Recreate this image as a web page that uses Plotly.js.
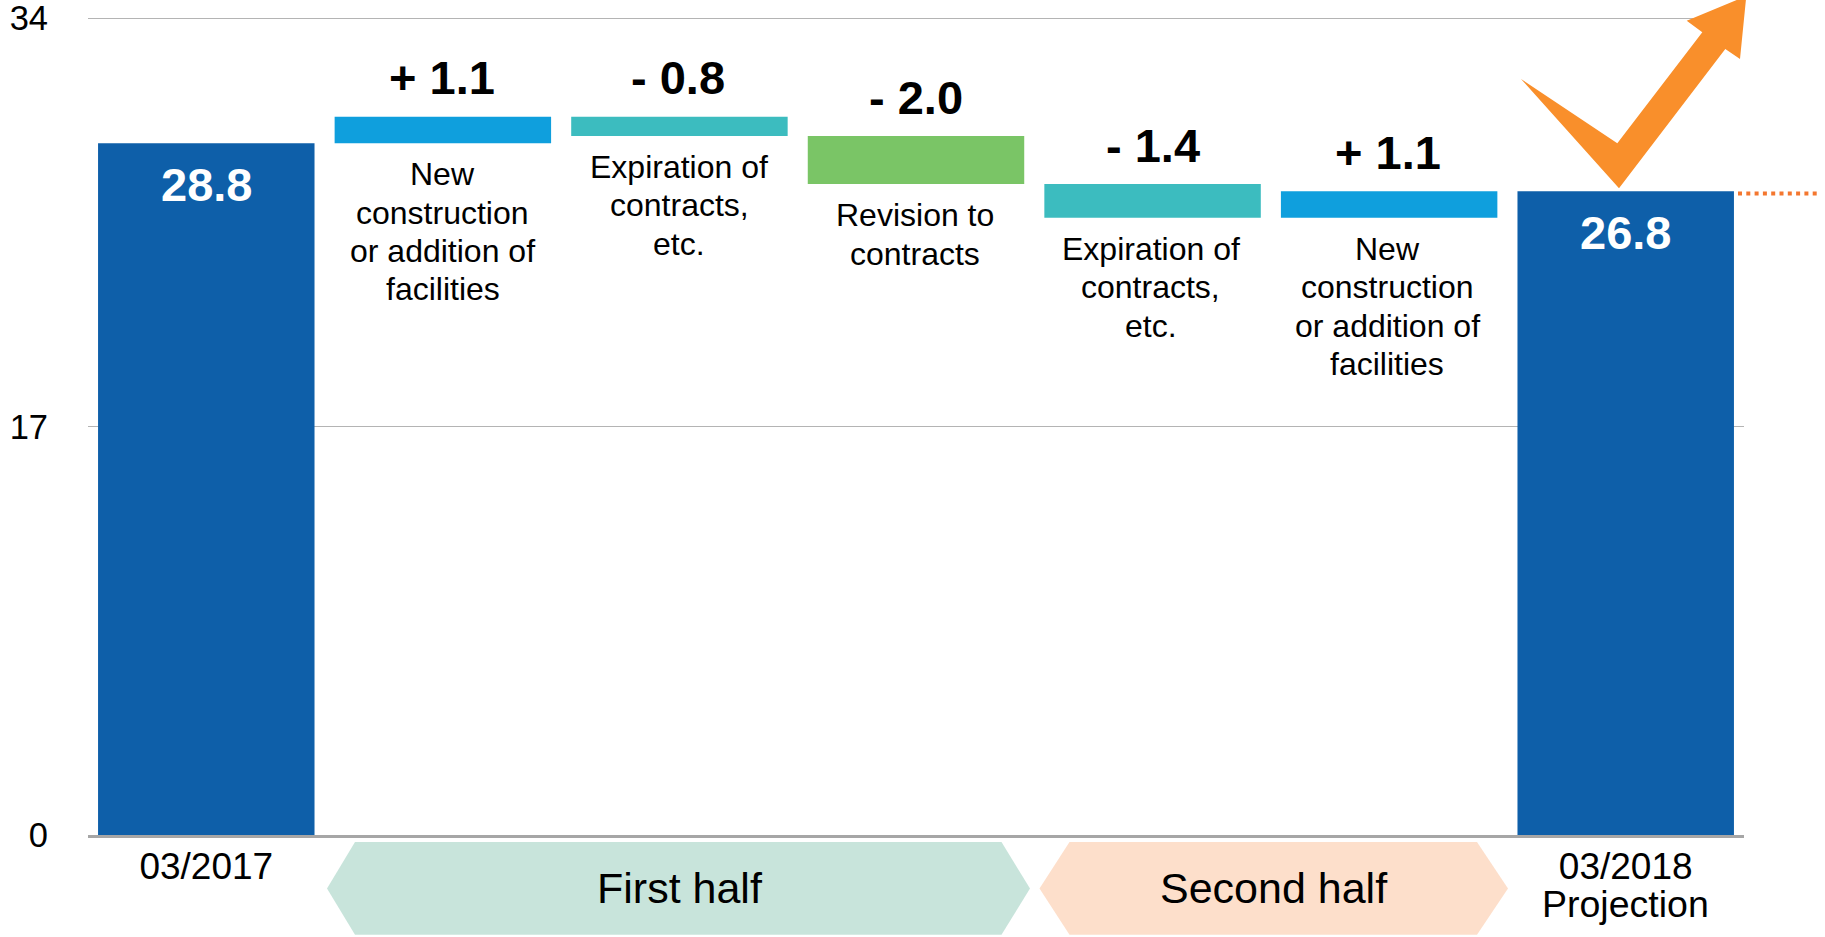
<!DOCTYPE html>
<html>
<head>
<meta charset="utf-8">
<script src="https://cdn.plot.ly/plotly-3.0.1.min.js"></script>
<style>html,body{margin:0;padding:0;background:#fff;overflow:hidden}</style>
</head>
<body>
<div id="chart" style="width:1825px;height:937px"></div>
<script>
const categories = ['03/2017','New facilities H1','Expiration H1','Revision','Expiration H2','New facilities H2','03/2018'];
const barBottoms = [0, 28.8, 29.1, 27.1, 25.7, 25.7, 0];
const barHeights = [28.8, 1.1, 0.8, 2.0, 1.4, 1.1, 26.8];
const barColors = ['#0e5fa9','#0f9fdd','#3cbcbf','#7ac566','#3cbcbf','#0f9fdd','#0e5fa9'];
const deltaLabels = ['', '+ 1.1', '- 0.8', '- 2.0', '- 1.4', '+ 1.1', ''];
const totalLabels = ['28.8', '', '', '', '', '', '26.8'];
const descriptions = [
  [],
  ['New','construction','or addition of','facilities'],
  ['Expiration of','contracts,','etc.'],
  ['Revision to','contracts'],
  ['Expiration of','contracts,','etc.'],
  ['New','construction','or addition of','facilities'],
  []
];
const yTicks = [0, 17, 34];
const xTickVals = ['03/2017','03/2018'];

const W = 1825, H = 937, mL = 88, mR = 81, mT = 16, mB = 101.5;
const fontFamily = '"Liberation Sans", Arial, sans-serif';
const px = v => (v - mL) / (W - mL - mR);
const py = v => 1 - (v - mT) / (H - mT - mB);
const poly = pts => 'M' + pts.map(p => px(p[0]) + ',' + py(p[1])).join('L') + 'Z';
const textNudge = [0, 0, 0, -1, -2, -2, 0];
const deltaNudge = [0, -1, -1, 0, 0, -1, 0];

const arrowOutline = [[1619,188.3],[1521,79],[1617.3,143.3],[1702.3,32.3],[1686.7,20.7],[1746.3,-4],[1740,59],[1725.3,49]];
const firstHalf = [[327,889],[355,842.5],[1001.5,842.5],[1030,889],[1001.5,935.4],[355,935.4]];
const secondHalf = [[1039.5,889],[1069.5,842.5],[1477,842.5],[1508,889],[1477,935.4],[1069.5,935.4]];

const shapes = [
  {type:'path', xref:'paper', yref:'paper', path:poly(firstHalf), fillcolor:'#c8e4db', line:{width:0}},
  {type:'path', xref:'paper', yref:'paper', path:poly(secondHalf), fillcolor:'#fddfcb', line:{width:0}},
  {type:'path', xref:'paper', yref:'paper', path:poly(arrowOutline), fillcolor:'#f98f2b', line:{width:0}},
  {type:'line', xref:'paper', yref:'paper', x0:px(1738), x1:px(1820), y0:py(193.7), y1:py(193.7),
   line:{color:'#f4772f', width:4, dash:'4px,4.3px'}}
];

const annotations = [];
const note = (o) => annotations.push(Object.assign({showarrow:false, xanchor:'center', yanchor:'middle'}, o));
categories.forEach((c, i) => {
  const top = barBottoms[i] + barHeights[i];
  if (deltaLabels[i]) note({xref:'x', yref:'y', x:c, y:top, yshift:39, xshift:deltaNudge[i], text:deltaLabels[i],
    font:{family:fontFamily, size:47, color:'#000', weight:700}});
  if (totalLabels[i]) note({xref:'x', yref:'y', x:c, y:top, yshift:-41, text:totalLabels[i],
    font:{family:fontFamily, size:47, color:'#fff', weight:700}});
  descriptions[i].forEach((line, k) => note({xref:'x', yref:'y', x:c, y:barBottoms[i], yshift:-(31 + 38.4 * k), xshift:textNudge[i], text:line,
    font:{family:fontFamily, size:32, color:'#000'}}));
});
note({xref:'paper', yref:'paper', x:px(679.6), y:py(888.5), text:'First half', font:{family:fontFamily, size:43, color:'#000'}});
note({xref:'paper', yref:'paper', x:px(1274), y:py(888.5), text:'Second half', font:{family:fontFamily, size:43, color:'#000'}});
note({xref:'x', yref:'paper', x:'03/2018', y:py(904.5), text:'Projection', font:{family:fontFamily, size:37.5, color:'#000'}});

Plotly.newPlot('chart', [{
  type:'bar',
  x:categories,
  y:barHeights,
  base:barBottoms,
  marker:{color:barColors, line:{width:0}},
  hoverinfo:'skip',
  showlegend:false
}], {
  width:W, height:H,
  margin:{l:mL, r:mR, t:mT, b:mB, pad:0},
  paper_bgcolor:'#fff', plot_bgcolor:'#fff',
  showlegend:false,
  bargap:0.085,
  font:{family:fontFamily, color:'#000'},
  xaxis:{type:'category', categoryorder:'array', categoryarray:categories, range:[-0.5,6.5],
    tickmode:'array', tickvals:xTickVals, ticktext:xTickVals, tickfont:{size:37, color:'#000'},
    ticks:'', ticklabelstandoff:-3, showgrid:false, zeroline:false, showline:true, linecolor:'#a6a6a6', linewidth:3, tickangle:0},
  yaxis:{range:[0,34.1], tickmode:'array', tickvals:yTicks, ticktext:yTicks.map(String), tickfont:{size:34.5, color:'#000'},
    ticks:'', ticklabelstandoff:39, ticklabeloverflow:'allow', showgrid:true, gridcolor:'#b4b4b4', gridwidth:1.5, zeroline:false, showline:false},
  shapes, annotations
}, {displayModeBar:false, staticPlot:true});
</script>
</body>
</html>
